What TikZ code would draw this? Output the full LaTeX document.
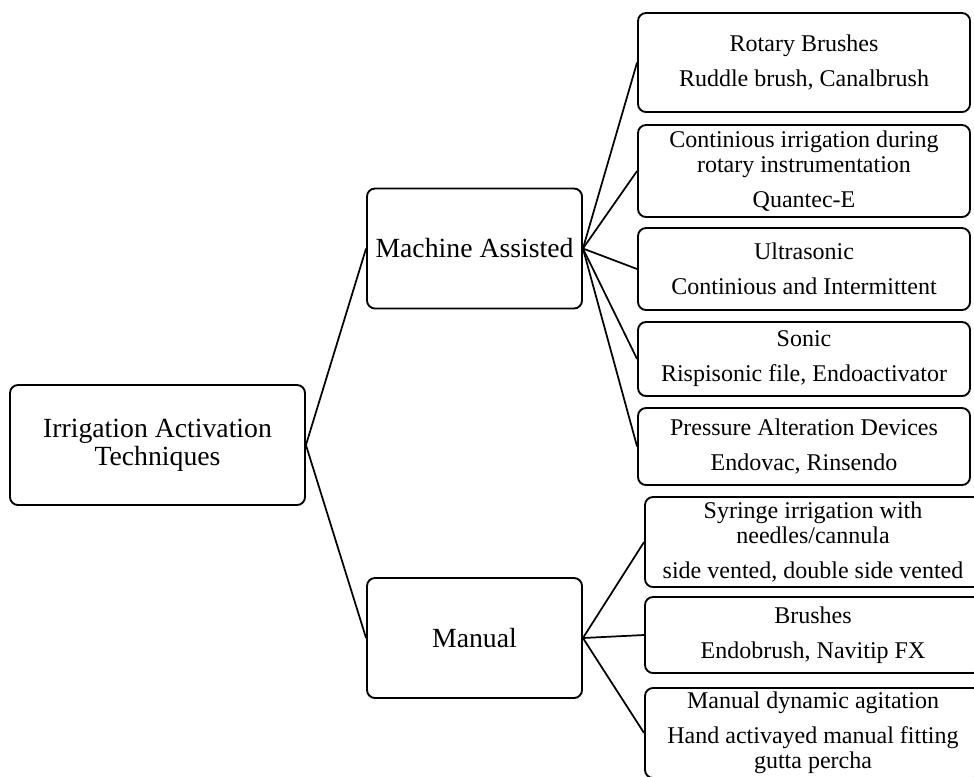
\documentclass[tikz,border=0pt]{standalone}
\usepackage{fontspec}
\setmainfont{Liberation Serif}
\usetikzlibrary{positioning}

\begin{document}
\begin{tikzpicture}[
    x=0.75pt, y=-0.75pt,
    box/.style={rectangle, draw=black, line width=1.4pt, rounded corners=6pt, minimum width=161.25pt, minimum height=90pt, align=center, inner sep=2pt, font=\fontsize{20.8}{21}\selectfont},
    leaf/.style={rectangle, draw=black, line width=1.4pt, rounded corners=6pt, minimum width=249pt, align=center, inner sep=2pt, font=\fontsize{18}{18.75}\selectfont},
    leafb/.style={leaf, minimum width=252pt},
    link/.style={line width=1.3pt, black},
]
    \clip (0,0) rectangle (974,776);

    % Root and the two groups
    \node[box, minimum width=221.25pt] (root) at (157.5,445) {Irrigation Activation\\Techniques};
    \node[box] (machine) at (474.5,248.5) {Machine Assisted};
    \node[box] (manual) at (474.5,638) {Manual};

    % Machine assisted techniques
    \node[leaf, minimum height=74.25pt] (rotary) at (804,62.5) {Rotary Brushes\\[7.5pt]Ruddle brush, Canalbrush};
    \node[leaf, minimum height=69pt] (contin) at (804,171) {Continious irrigation during\\rotary instrumentation\\[7.5pt]Quantec-E};
    \node[leaf, minimum height=61.5pt] (ultra) at (804,269) {Ultrasonic\\[7.5pt]Continious and Intermittent};
    \node[leaf, minimum height=55.5pt] (sonic) at (804,359) {Sonic\\[7.5pt]Rispisonic file, Endoactivator};
    \node[leaf, minimum height=57.75pt] (press) at (804,446.5) {Pressure Alteration Devices\\[7.5pt]Endovac, Rinsendo};

    % Manual techniques
    \node[leafb, minimum height=67.5pt] (syringe) at (813,542) {Syringe irrigation with\\needles/cannula\\[7.5pt]side vented, double side vented};
    \node[leafb, minimum height=57pt] (brushes) at (813,635) {Brushes\\[7.5pt]Endobrush, Navitip FX};
    \node[leafb, minimum height=67.5pt] (mandyn) at (813,733) {Manual dynamic agitation\\[7.5pt]Hand activayed manual fitting\\gutta percha};

    % Connectors
    \draw[link] (root.east) -- (machine.west);
    \draw[link] (root.east) -- (manual.west);
    \foreach \leafname in {rotary,contin,ultra,sonic,press}
        \draw[link] (machine.east) -- (\leafname.west);
    \foreach \leafname in {syringe,brushes,mandyn}
        \draw[link] (manual.east) -- (\leafname.west);
\end{tikzpicture}
\end{document}
